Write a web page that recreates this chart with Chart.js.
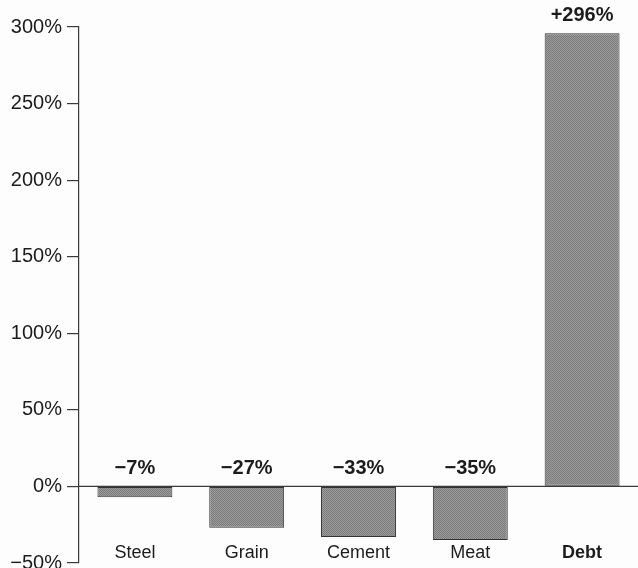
<!DOCTYPE html>
<html>
<head>
<meta charset="utf-8">
<script src="https://cdn.jsdelivr.net/npm/chart.js@4.4.1/dist/chart.umd.min.js"></script>
<style>
  html, body { margin: 0; padding: 0; background: #fdfdfd; }
  #wrap { width: 638px; height: 568px; position: relative; }
</style>
</head>
<body>
<div id="wrap"><canvas id="c"></canvas></div>
<script>
// Percentage change by category
const categories = ['Steel', 'Grain', 'Cement', 'Meat', 'Debt'];
const changes = [-7, -27, -33, -35, 296];
const valueLabels = ['\u22127%', '\u221227%', '\u221233%', '\u221235%', '+296%'];
const boldCategories = ['Debt'];

const FONT = '"Liberation Sans", Arial, Helvetica, sans-serif';
const INK = '#1c1c1c';
const AXIS = '#3a3a3a';

// Fine screen-tone fill for the bars
function screenTone() {
  const c = document.createElement('canvas');
  c.width = 2; c.height = 2;
  const g = c.getContext('2d');
  g.fillStyle = '#9a9a9a'; g.fillRect(0, 0, 2, 2);
  g.fillStyle = '#7c7c7c'; g.fillRect(0, 0, 1, 1); g.fillRect(1, 1, 1, 1);
  return g.createPattern(c, 'repeat');
}

// Zero line, value labels above each bar, and category names near the bottom
const annotate = {
  id: 'annotate',
  afterDatasetsDraw(chart) {
    const { ctx, chartArea, scales: { y } } = chart;
    const y0 = y.getPixelForValue(0);
    ctx.save();
    ctx.strokeStyle = AXIS;
    ctx.lineWidth = 1.2;
    ctx.beginPath();
    ctx.moveTo(chartArea.left, y0);
    ctx.lineTo(chartArea.right, y0);
    ctx.stroke();

    ctx.fillStyle = INK;
    ctx.textAlign = 'center';
    ctx.textBaseline = 'middle';
    const meta = chart.getDatasetMeta(0);
    meta.data.forEach((bar, i) => {
      const v = changes[i];
      const top = v >= 0 ? y.getPixelForValue(v) : y0;
      ctx.font = 'bold 20px ' + FONT;
      ctx.fillText(valueLabels[i], bar.x, top - 18);
      const bold = boldCategories.includes(categories[i]);
      ctx.font = (bold ? 'bold ' : '') + '18px ' + FONT;
      ctx.fillText(categories[i], bar.x, chartArea.bottom - 10);
    });
    ctx.restore();
  }
};

new Chart(document.getElementById('c'), {
  type: 'bar',
  data: {
    labels: categories,
    datasets: [{
      data: changes,
      backgroundColor: screenTone(),
      borderColor: '#333',
      borderWidth: 1,
      borderSkipped: false,
      barPercentage: 0.67,
      categoryPercentage: 1.0
    }]
  },
  options: {
    responsive: true,
    maintainAspectRatio: false,
    animation: false,
    layout: { padding: { top: 27, bottom: 5, right: 0, left: 0 } },
    plugins: { legend: { display: false }, tooltip: { enabled: false } },
    scales: {
      x: { display: false },
      y: {
        min: -50,
        max: 300,
        ticks: {
          stepSize: 50,
          padding: 5,
          color: INK,
          font: { family: FONT, size: 20 },
          callback: v => (v < 0 ? '\u2212' + Math.abs(v) : v) + '%'
        },
        grid: { drawOnChartArea: false, drawTicks: true, tickLength: 12, color: AXIS, lineWidth: 1.2 },
        border: { display: true, color: AXIS, width: 1.2 },
        afterFit(scale) {
          scale.width = 79;
          scale.paddingTop = 0;
          scale.paddingBottom = 0;
        }
      }
    }
  },
  plugins: [annotate]
});
</script>
</body>
</html>
